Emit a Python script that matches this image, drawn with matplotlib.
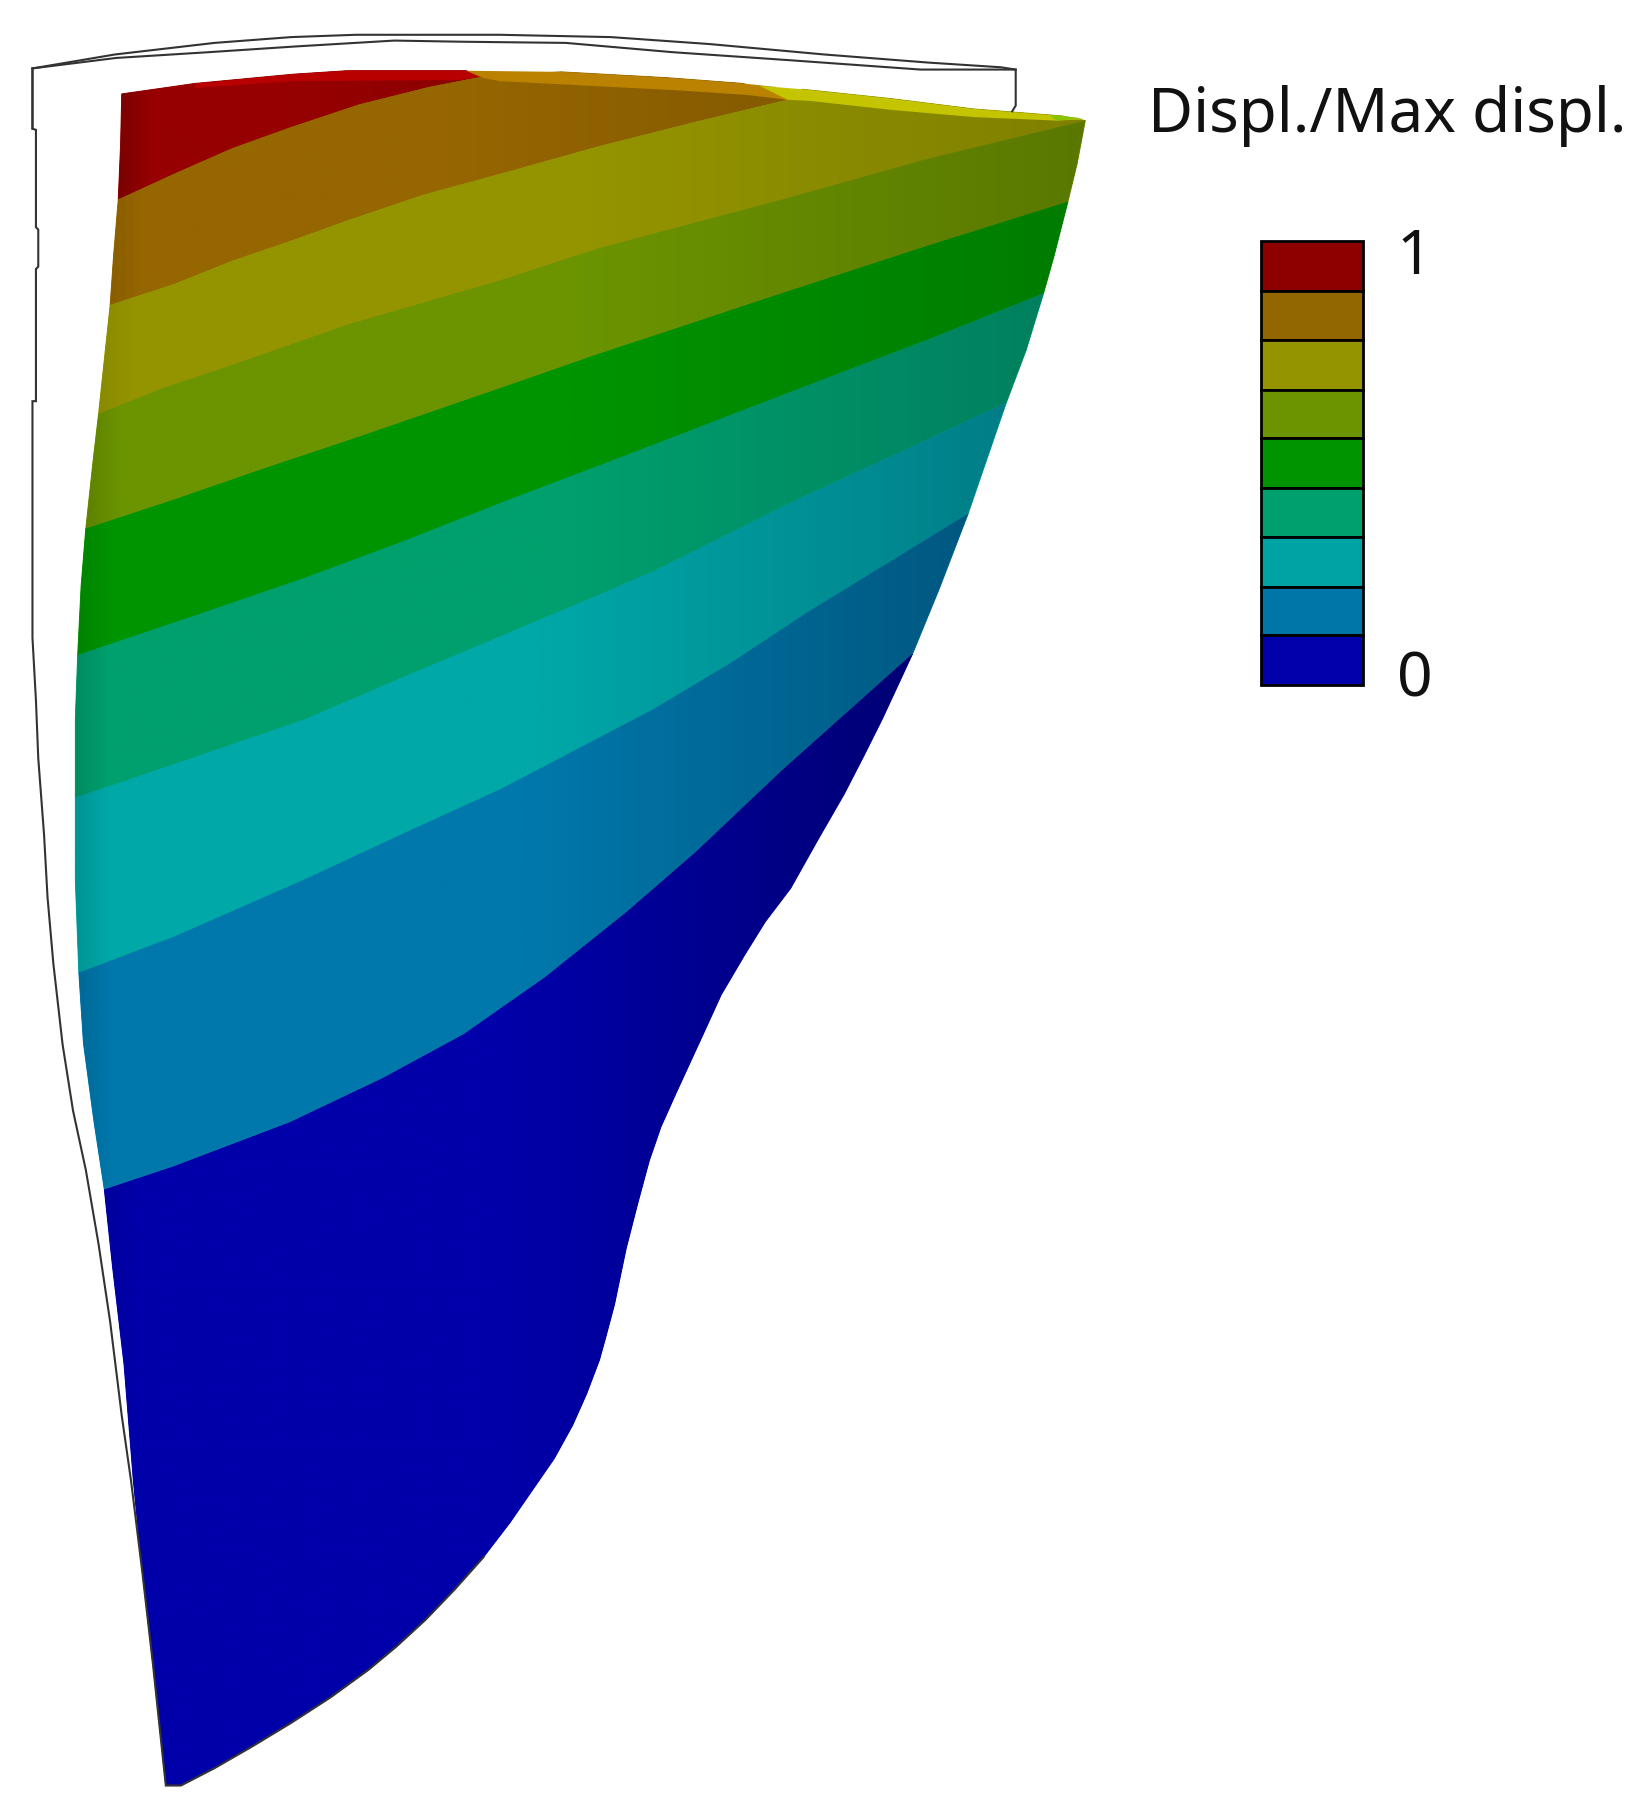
import matplotlib
matplotlib.use('Agg')
import matplotlib.pyplot as plt
import numpy as np
from matplotlib.colors import to_rgb
from matplotlib.patches import Polygon

# everything, in the 1417x1568 view of it
top_red = [(105, 81), (168, 72), (253, 64), (299, 61), (402, 61), (416, 66)]
top_brown = [(416, 66), (484, 62), (575, 67), (641, 72), (679, 86)]
top_olive = [(679, 86), (692, 77), (768, 85), (840, 94), (916, 100), (936, 104)]

# contour lines, left edge to right edge
b0 = [(102, 172), (150, 150), (200, 128), (250, 110), (310, 90), (370, 75), (416, 66)]
b1 = [(95, 263), (150, 245), (200, 225), (250, 208), (300, 190), (365, 168), (431, 150), (517, 126), (600, 105),
      (679, 86)]
b2 = [(85, 357), (140, 335), (200, 315), (300, 280), (431, 242), (517, 214), (600, 192), (675, 172), (800, 137),
      (936, 104)]
b3 = [(74, 456), (150, 431), (225, 405), (300, 380), (431, 335), (517, 305), (590, 281), (662, 257), (800, 212),
      (921, 174)]
b4 = [(67, 565), (165, 532), (264, 498), (350, 466), (439, 431), (560, 385), (630, 358), (695, 333), (800, 293),
      (900, 253)]
b5 = [(65, 688), (165, 654), (264, 620), (350, 583), (431, 549), (500, 520), (563, 493), (625, 462), (687, 431),
      (761, 397), (815, 372), (868, 347)]
b6 = [(68, 839), (150, 808), (264, 758), (350, 718), (431, 681), (500, 645), (563, 612), (630, 572), (695, 529),
      (770, 483), (835, 443)]
b7 = [(90, 1026), (150, 1006), (250, 968), (330, 930), (400, 892), (470, 843), (540, 787), (600, 735), (675, 664),
      (740, 606), (787, 564)]

# shape edges between the contour lines
left_edge = [[(104, 125)], [(98, 220)], [(90, 310)], [(80, 400)], [(70, 505)], [(65, 620)], [(65, 760)],
             [(81, 967), (72, 900)],
             [(143, 1540), (132, 1436), (123, 1358), (115, 1277), (107, 1177), (97, 1092)]]
right_edge = [[], [], [], [(929, 141)], [(909, 221)], [(885, 302)], [(847, 408)], [(810, 508)],
              [(761, 620), (745, 652), (728, 685), (705, 725), (682, 766), (660, 795), (642, 824), (622, 858),
               (606, 893), (583, 943), (570, 972), (560, 1001), (550, 1038), (540, 1077), (530, 1125), (522, 1155),
               (517, 1173), (506, 1202), (494, 1229), (478, 1258), (460, 1284), (440, 1313), (417, 1343), (392, 1371),
               (367, 1397), (342, 1420), (318, 1440), (285, 1464), (251, 1486), (218, 1506), (185, 1525), (156, 1540)]]

# thin lit strips along the top
strip_red = [(168, 72), (253, 64), (299, 61), (402, 61), (416, 66), (396, 69), (253, 70), (168, 76)]
strip_orange = [(402, 61), (484, 62), (575, 67), (641, 72), (669, 75), (679, 86), (645, 82), (586, 78),
                (431, 70), (416, 67)]
strip_yellow = [(655, 74), (692, 77), (768, 85), (840, 94), (916, 100), (934, 103), (911, 104), (840, 101),
                (771, 95), (698, 87), (679, 86)]
strip_tip = [(905, 99), (934, 102), (911, 104)]

# undeformed outline
outline_upper = [(28, 111), (28, 59), (99, 47), (185, 37), (251, 32), (307, 30), (431, 30), (527, 32), (612, 38),
                 (711, 47), (801, 54), (863, 58), (876, 60), (876, 91), (873, 96)]
outline_lower = [(28, 59), (100, 50), (180, 45), (256, 40), (340, 35), (399, 36), (488, 37), (580, 45), (682, 52),
                 (794, 60), (876, 60)]
outline_left = [(28, 59), (28, 111), (31, 112), (31, 196), (33, 198), (33, 230), (31, 232), (31, 346), (28, 346),
                (28, 550), (31, 604), (33, 654), (38, 720), (41, 774), (46, 831), (54, 901), (63, 958), (74, 1009),
                (85, 1073), (95, 1140), (105, 1221), (113, 1277), (123, 1358), (132, 1436), (143, 1540), (156, 1540),
                (185, 1525), (218, 1506), (251, 1486), (285, 1464), (318, 1440), (342, 1420), (367, 1397), (392, 1371),
                (417, 1343)]

band_left = ['#7a0000', '#8a5e00', '#8a8a00', '#5f8200', '#008400', '#008c60', '#009494', '#006a98', '#00009c']
band_main = ['#960000', '#966600', '#949400', '#6b9400', '#009400', '#00a06e', '#00a8a8', '#0078ac', '#0000aa']
band_right = ['#8c0000', '#855a00', '#808000', '#5a7800', '#007c00', '#00805e', '#007e88', '#005880', '#000074']

legend_colors = ['#8e0000', '#926600', '#949400', '#6b9400', '#009400', '#00a06e', '#00a3a3', '#0076a8', '#0000aa']
legend_edges = [208, 251, 293, 336, 378, 421, 463, 506, 548, 591]
legend_labels = ['1', '0']

title = 'Displ./Max displ.'

plt.rcParams['font.family'] = ['Noto Sans', 'DejaVu Sans']
fig = plt.figure(figsize=(16.43, 18.18), dpi=100)
ax = fig.add_axes([0, 0, 1, 1])
ax.axis('off')

bnd = [b0, b1, b2, b3, b4, b5, b6, b7]
tops = [top_red, top_brown, top_olive]
for i in range(9):
    if i == 0:
        pts = list(tops[0]) + b0[::-1][1:]
    elif i < 3:
        pts = bnd[i - 1] + tops[i][1:] + bnd[i][::-1]
    elif i < 8:
        pts = bnd[i - 1] + right_edge[i] + bnd[i][::-1]
    else:
        pts = b7 + right_edge[8]
    pts = pts + left_edge[i]
    xy = np.array(pts, dtype=float)
    x0, x1 = xy[:, 0].min(), xy[:, 0].max()
    xs = np.linspace(x0, x1, 300)
    stops = [x0, x0 + 28, x0 + (x1 - x0) * 0.5, x1]
    cols = [to_rgb(band_left[i]), to_rgb(band_main[i]), to_rgb(band_main[i]), to_rgb(band_right[i])]
    cols = np.array(cols)
    img = np.stack([np.interp(xs, stops, cols[:, c]) for c in range(3)], axis=-1)[np.newaxis, :, :]
    y0, y1 = xy[:, 1].min(), xy[:, 1].max()
    # flat fill underneath so no seams show between the clipped images
    ax.add_patch(Polygon(xy, closed=True, fc=band_main[i], ec=band_main[i], lw=0.7, zorder=1))
    patch = Polygon(xy, closed=True, transform=ax.transData, fc='none', ec='none')
    ax.add_patch(patch)
    im = ax.imshow(img, extent=(x0, x1, y1, y0), aspect='auto', interpolation='bilinear', zorder=2)
    im.set_clip_path(patch)

ax.fill(*zip(*strip_red), color='#b80000', lw=0, zorder=3)
ax.fill(*zip(*strip_orange), color='#ba8200', lw=0, zorder=3)
ax.fill(*zip(*strip_yellow), color='#c4c400', lw=0, zorder=3)
ax.fill(*zip(*strip_tip), color='#84c400', lw=0, zorder=3)

for line in (outline_upper, outline_lower, outline_left):
    ax.plot(*zip(*line), color='#333333', lw=1.5, zorder=4, solid_joinstyle='miter')

# legend
edges = np.array(legend_edges, dtype=float)
ax.bar(1131.5, np.diff(edges), bottom=edges[:-1], width=88, color=legend_colors,
       edgecolor='black', linewidth=2, zorder=5)

ax.text(990, 114, title, fontsize=44.6, color='#111111', ha='left', va='baseline')
ax.text(1220, 236, legend_labels[0], fontsize=45, color='#111111', ha='center', va='baseline')
ax.text(1220, 601, legend_labels[1], fontsize=45, color='#111111', ha='center', va='baseline')

ax.set_xlim(0, 1417)
ax.set_ylim(1568, 0)
fig.savefig('out.png', dpi=100, facecolor='white')
